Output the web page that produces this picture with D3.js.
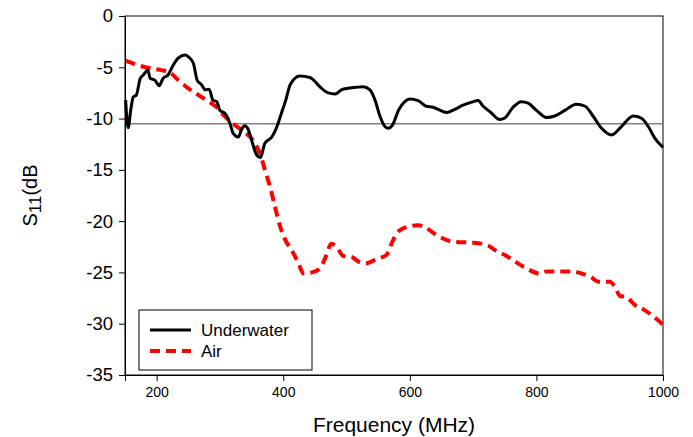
<!DOCTYPE html>
<html>
<head>
<meta charset="utf-8">
<script src="https://cdn.jsdelivr.net/npm/d3@7"></script>
<style>
  body { margin: 0; background: #fff; }
  text { font-family: "Liberation Sans", Arial, sans-serif; }
</style>
</head>
<body>
<svg id="chart" width="693" height="437"></svg>
<script>
// frequency (MHz) / S11 (dB)
var underFreq = [151, 155, 159, 163, 168, 174, 179, 186, 190, 197, 204, 210, 218, 226, 234, 245, 250, 258, 264, 271, 277, 283, 289, 295, 300, 308, 316, 321, 329, 334, 339, 345, 350, 358, 364, 371, 382, 390, 397, 404, 411, 426, 442, 448, 458, 471, 482, 492, 503, 516, 526, 537, 545, 553, 561, 566, 573, 582, 592, 600, 613, 626, 637, 645, 658, 671, 684, 698, 708, 716, 727, 742, 750, 763, 776, 787, 800, 816, 829, 845, 863, 877, 890, 903, 919, 934, 953, 966, 977, 987, 1000];
var underS11 = [-8.2, -10.9, -9.2, -7.9, -7.7, -6.1, -5.75, -5.3, -6.1, -6.25, -6.8, -6.1, -5.75, -4.8, -4.1, -3.8, -3.97, -4.6, -6.25, -6.7, -7.2, -7.15, -8.2, -8.35, -9.2, -9.5, -10.5, -11.45, -11.8, -11.1, -10.7, -11.1, -12.1, -13.55, -13.8, -12.4, -11.8, -10.8, -9.5, -8.2, -6.7, -5.85, -6.0, -6.25, -6.9, -7.5, -7.6, -7.2, -7.05, -6.95, -6.9, -7.2, -8.2, -9.8, -10.8, -10.95, -10.6, -9.2, -8.35, -8.1, -8.25, -8.8, -8.9, -9.1, -9.4, -9.1, -8.7, -8.4, -8.25, -8.8, -9.35, -10.1, -9.95, -8.9, -8.35, -8.5, -9.2, -9.9, -9.75, -9.2, -8.6, -8.8, -9.8, -10.95, -11.6, -10.8, -9.75, -9.97, -10.8, -11.9, -12.8];

var airFreq = [151, 179, 205, 221, 234, 250, 266, 279, 295, 308, 321, 334, 347, 358, 366, 371, 379, 387, 395, 403, 413, 424, 432, 445, 458, 467, 476, 484, 495, 508, 521, 532, 547, 563, 574, 584, 600, 613, 624, 642, 668, 700, 724, 734, 753, 763, 784, 805, 816, 842, 858, 871, 887, 898, 916, 924, 932, 942, 956, 969, 985, 1000];
var airS11 = [-4.35, -4.95, -5.25, -5.5, -6.25, -7.05, -7.7, -8.2, -8.9, -9.8, -10.5, -11.1, -11.75, -12.7, -13.9, -15, -16.6, -18.6, -20.5, -21.8, -22.8, -24.1, -25.1, -25.0, -24.6, -23.5, -22.2, -22.5, -23.4, -23.5, -24.0, -24.1, -23.7, -23.3, -21.8, -20.9, -20.5, -20.4, -20.6, -21.35, -22.0, -22.1, -22.4, -22.8, -23.4, -23.8, -24.6, -25.1, -24.9, -24.9, -24.9, -25.1, -25.5, -25.9, -25.9, -26.4, -27.3, -27.4, -28.2, -28.6, -29.3, -30.1];

var xTicks = [200, 400, 600, 800, 1000];
var yTicks = [0, -5, -10, -15, -20, -25, -30, -35];
var refLevel = -10.5;
var seriesNames = ["Underwater", "Air"];

var svg = d3.select("#chart");
var margin = { top: 16, right: 30, bottom: 62, left: 125 };
var width = 693 - margin.left - margin.right,
  height = 437 - margin.top - margin.bottom;

var x = d3.scaleLinear().domain([150, 1000]).range([0, width]);
var y = d3.scaleLinear().domain([-35, 0]).range([height, 0]);

var g = svg.append("g").attr("transform", "translate(" + margin.left + "," + margin.top + ")");

// frame
g.append("rect")
  .attr("width", width).attr("height", height)
  .attr("fill", "none").attr("stroke", "#000").attr("stroke-width", 1);

// reference line
g.append("line")
  .attr("x1", 0).attr("x2", width)
  .attr("y1", y(refLevel)).attr("y2", y(refLevel))
  .attr("stroke", "#808080").attr("stroke-width", 1.5);

var xAxis = g.append("g")
  .attr("transform", "translate(0," + height + ")")
  .call(d3.axisBottom(x).tickValues(xTicks).tickSize(6).tickPadding(6).tickFormat(d3.format("d")));
xAxis.selectAll("text").attr("font-size", 14).attr("fill", "#000");

var yAxis = g.append("g")
  .call(d3.axisLeft(y).tickValues(yTicks).tickSize(6).tickPadding(6).tickFormat(function(d) { return String(d); }));
yAxis.selectAll("text").attr("font-size", 18.5).attr("fill", "#000");

g.selectAll(".domain").attr("stroke", "#000");
g.selectAll(".tick line").attr("stroke", "#000");

var line = d3.line()
  .curve(d3.curveMonotoneX)
  .x(function(d) { return x(d[0]); })
  .y(function(d) { return y(d[1]); });

var airData = d3.zip(airFreq, airS11);
var underData = d3.zip(underFreq, underS11);

g.append("path")
  .datum(airData)
  .attr("d", line)
  .attr("fill", "none")
  .attr("stroke", "#ff0000")
  .attr("stroke-width", 4)
  .attr("stroke-dasharray", "10,6");

g.append("path")
  .datum(underData)
  .attr("d", line)
  .attr("fill", "none")
  .attr("stroke", "#000")
  .attr("stroke-width", 3)
  .attr("stroke-linejoin", "round");

// axis titles
svg.append("text")
  .attr("x", 394)
  .attr("y", 432)
  .attr("text-anchor", "middle")
  .attr("font-size", 21)
  .text("Frequency (MHz)");

var yl = svg.append("text")
  .attr("transform", "translate(37," + (margin.top + height / 2) + ") rotate(-90)")
  .attr("text-anchor", "middle")
  .attr("font-size", 20);
yl.append("tspan").text("S");
yl.append("tspan").attr("font-size", 17).attr("dy", 4).text("11");
yl.append("tspan").attr("dy", -4).text("(dB");

// legend
var lg = g.append("g").attr("transform", "translate(" + (139 - margin.left) + "," + (310 - margin.top) + ")");
lg.append("rect")
  .attr("width", 173).attr("height", 60)
  .attr("fill", "#fff").attr("stroke", "#000").attr("stroke-width", 1);
var colors = ["#000", "#ff0000"];
seriesNames.forEach(function(name, i) {
  var row = lg.append("g").attr("transform", "translate(0," + (20 + i * 21) + ")");
  row.append("line")
    .attr("x1", 11).attr("x2", 52)
    .attr("stroke", colors[i])
    .attr("stroke-width", i === 0 ? 3 : 4)
    .attr("stroke-dasharray", i === 0 ? null : "10,6");
  row.append("text")
    .attr("x", 62).attr("y", 6)
    .attr("font-size", 17)
    .text(name);
});
</script>
</body>
</html>
